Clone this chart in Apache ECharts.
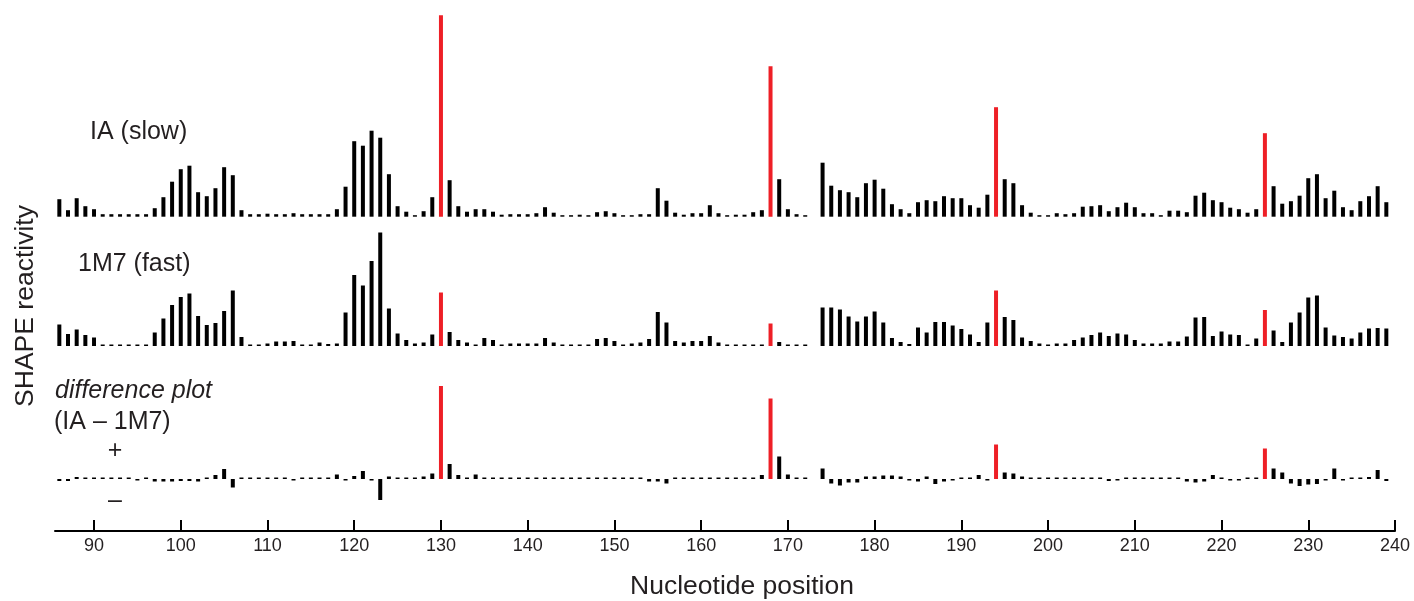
<!DOCTYPE html>
<html>
<head>
<meta charset="utf-8">
<script src="https://cdn.jsdelivr.net/npm/echarts@6/dist/echarts.min.js"></script>
<style>
html,body{margin:0;padding:0;background:#fff;}
#chart{width:1414px;height:601px;}
</style>
</head>
<body>
<div id="chart"></div>
<script>
// Nucleotide positions (86 .. 239)
const positions = [86,87,88,89,90,91,92,93,94,95,96,97,98,99,100,101,102,103,104,105,106,107,108,109,110,111,112,113,114,115,116,117,118,119,120,121,122,123,124,125,126,127,128,129,130,131,132,133,134,135,136,137,138,139,140,141,142,143,144,145,146,147,148,149,150,151,152,153,154,155,156,157,158,159,160,161,162,163,164,165,166,167,168,169,170,171,172,173,174,175,176,177,178,179,180,181,182,183,184,185,186,187,188,189,190,191,192,193,194,195,196,197,198,199,200,201,202,203,204,205,206,207,208,209,210,211,212,213,214,215,216,217,218,219,220,221,222,223,224,225,226,227,228,229,230,231,232,233,234,235,236,237,238,239];

// IA (slow) reactivity
const iaSlow = [
0.35,0.13,0.37,0.21,0.15,0.05,0.05,0.05,0.05,0.05,0.05,0.17,0.39,0.70,0.95,1.02,0.49,0.41,0.57,0.99,
0.83,0.13,0.05,0.05,0.06,0.05,0.05,0.07,0.05,0.05,0.05,0.05,0.15,0.60,1.51,1.42,1.72,1.58,0.85,0.21,
0.10,0.03,0.11,0.39,4.03,0.73,0.21,0.10,0.15,0.15,0.10,0.04,0.05,0.05,0.05,0.07,0.19,0.08,0.03,0.03,
0.04,0.03,0.09,0.11,0.07,0.03,0.03,0.05,0.05,0.57,0.32,0.08,0.04,0.07,0.07,0.23,0.07,0.03,0.04,0.04,
0.09,0.13,3.01,0.75,0.15,0.05,0.03,null,1.08,0.62,0.53,0.49,0.39,0.67,0.74,0.56,0.25,0.15,0.07,0.29,
0.33,0.31,0.41,0.37,0.37,0.23,0.18,0.44,2.19,0.75,0.67,0.23,0.08,0.03,0.03,0.07,0.05,0.07,0.20,0.21,
0.23,0.11,0.19,0.28,0.19,0.07,0.07,0.03,0.12,0.12,0.09,0.42,0.48,0.33,0.29,0.18,0.15,0.08,0.15,1.67,
0.61,0.26,0.31,0.42,0.77,0.85,0.37,0.52,0.19,0.13,0.31,0.41,0.61,0.29];

// 1M7 (fast) reactivity
const m7Fast = [
0.43,0.24,0.33,0.22,0.17,0.03,0.03,0.03,0.03,0.03,0.03,0.27,0.55,0.82,0.98,1.05,0.60,0.42,0.46,0.70,
1.11,0.18,0.03,0.03,0.05,0.09,0.09,0.10,0.03,0.03,0.07,0.04,0.05,0.67,1.42,1.21,1.70,2.27,0.75,0.25,
0.12,0.05,0.07,0.23,1.07,0.28,0.12,0.07,0.03,0.16,0.12,0.03,0.05,0.05,0.05,0.05,0.16,0.07,0.03,0.03,
0.03,0.03,0.14,0.16,0.10,0.03,0.05,0.07,0.14,0.68,0.47,0.10,0.07,0.10,0.10,0.20,0.07,0.03,0.03,0.03,
0.03,0.03,0.45,0.08,0.03,0.03,0.03,null,0.77,0.77,0.73,0.59,0.49,0.59,0.69,0.47,0.16,0.08,0.04,0.37,
0.27,0.48,0.48,0.41,0.34,0.23,0.08,0.47,1.11,0.58,0.52,0.17,0.10,0.05,0.03,0.05,0.05,0.12,0.17,0.22,
0.27,0.20,0.25,0.23,0.12,0.05,0.05,0.05,0.09,0.09,0.19,0.57,0.58,0.20,0.29,0.23,0.22,0.03,0.15,0.72,
0.31,0.08,0.47,0.67,0.97,1.01,0.37,0.21,0.18,0.15,0.27,0.35,0.36,0.35];

// Difference plot (IA - 1M7)
const diffVals = [
-0.04,-0.04,0.04,0.03,0.03,0.03,0.03,0.03,0.03,-0.03,0.03,-0.05,-0.05,-0.05,-0.04,-0.04,-0.05,0.03,0.08,0.20,
-0.17,0.03,0.03,0.03,0.03,0.03,0.03,-0.03,0.03,0.03,0.03,0.03,0.09,-0.03,0.06,0.16,-0.03,-0.42,0.05,0.03,
0.03,0.03,0.05,0.11,1.86,0.30,0.08,0.03,0.09,0.03,0.03,0.03,0.03,0.03,0.03,0.03,0.03,0.03,0.03,0.03,
0.03,0.03,0.03,0.03,0.03,0.03,0.03,0.03,-0.05,-0.05,-0.09,0.03,0.03,0.03,0.03,0.03,0.03,0.03,0.03,0.03,
0.03,0.08,1.61,0.45,0.09,0.03,0.03,null,0.21,-0.09,-0.13,-0.07,-0.07,0.05,0.05,0.07,0.07,0.05,-0.03,-0.05,
0.05,-0.10,-0.05,-0.03,0.03,0.03,0.08,-0.03,0.69,0.13,0.11,0.05,0.03,0.03,0.03,0.03,0.03,0.03,0.03,0.03,
0.03,-0.04,-0.03,0.03,0.03,0.03,0.03,0.03,0.03,0.03,-0.05,-0.07,-0.05,0.08,0.03,-0.03,-0.03,0.03,0.03,0.61,
0.21,0.13,-0.09,-0.14,-0.11,-0.10,-0.03,0.21,-0.03,0.03,0.03,0.04,0.18,-0.04];

// Highlighted (red) nucleotides
const highlighted = [130, 168, 194, 225];

// Axis tick labels
const tickValues = [90,100,110,120,130,140,150,160,170,180,190,200,210,220,230,240];

const FONT = "'Liberation Sans', Arial, Helvetica, sans-serif";
const RED = '#ee1f26';
const TXT = '#231f20';

function pairs(vals){
  return positions.map((p,i)=>[p, vals[i]]);
}
function colorFn(params){
  return highlighted.indexOf(params.data[0]) >= 0 ? RED : '#000';
}

const chart = echarts.init(document.getElementById('chart'));
const xBase = {type:'value', min:85.5, max:240, show:false};
const option = {
  animation:false,
  backgroundColor:'#fff',
  grid:[
    {left:55, right:19, top:14.7, height:202},
    {left:55, right:19, top:231, height:115},
    {left:55, right:19, top:384, height:120}
  ],
  xAxis:[
    Object.assign({gridIndex:0}, xBase),
    Object.assign({gridIndex:1}, xBase),
    {gridIndex:2, type:'value', min:85.5, max:240, show:true, position:'bottom', offset:27,
     axisLine:{show:true, onZero:false, lineStyle:{color:'#000', width:2}},
     axisTick:{show:true, inside:true, length:11, customValues:tickValues, lineStyle:{color:'#000', width:2}},
     axisLabel:{show:true, customValues:tickValues, margin:6, fontSize:18, color:TXT, fontFamily:FONT},
     splitLine:{show:false}
    }
  ],
  yAxis:[
    {gridIndex:0, type:'value', min:0, max:4.04, show:false},
    {gridIndex:1, type:'value', min:0, max:2.3, show:false},
    {gridIndex:2, type:'value', min:-0.5, max:1.9, show:false}
  ],
  series:[
    {type:'bar', xAxisIndex:0, yAxisIndex:0, barWidth:4, data:pairs(iaSlow), itemStyle:{color:colorFn}},
    {type:'bar', xAxisIndex:1, yAxisIndex:1, barWidth:4, data:pairs(m7Fast), itemStyle:{color:colorFn}},
    {type:'bar', xAxisIndex:2, yAxisIndex:2, barWidth:4, data:pairs(diffVals), itemStyle:{color:colorFn}}
  ],
  graphic:[
    {type:'text', left:90, top:120, style:{text:'IA (slow)', fontSize:25, fill:TXT, fontFamily:FONT}},
    {type:'text', left:78, top:252, style:{text:'1M7 (fast)', fontSize:25, fill:TXT, fontFamily:FONT}},
    {type:'text', left:55, top:379, style:{text:'difference plot', fontSize:25, fontStyle:'italic', fill:TXT, fontFamily:FONT}},
    {type:'text', left:54, top:410, style:{text:'(IA \u2013 1M7)', fontSize:25, fill:TXT, fontFamily:FONT}},
    {type:'text', x:115, y:451, style:{text:'+', fontSize:25, fill:TXT, fontFamily:FONT, align:'center', verticalAlign:'middle'}},
    {type:'text', x:115, y:501, style:{text:'\u2013', fontSize:25, fill:TXT, fontFamily:FONT, align:'center', verticalAlign:'middle'}},
    {type:'text', x:26, y:306, rotation:Math.PI/2, style:{text:'SHAPE reactivity', fontSize:26.5, fill:TXT, fontFamily:FONT, align:'center', verticalAlign:'middle'}},
    {type:'text', x:742, y:587, style:{text:'Nucleotide position', fontSize:26.5, fill:TXT, fontFamily:FONT, align:'center', verticalAlign:'middle'}}
  ]
};
chart.setOption(option);
</script>
</body>
</html>
